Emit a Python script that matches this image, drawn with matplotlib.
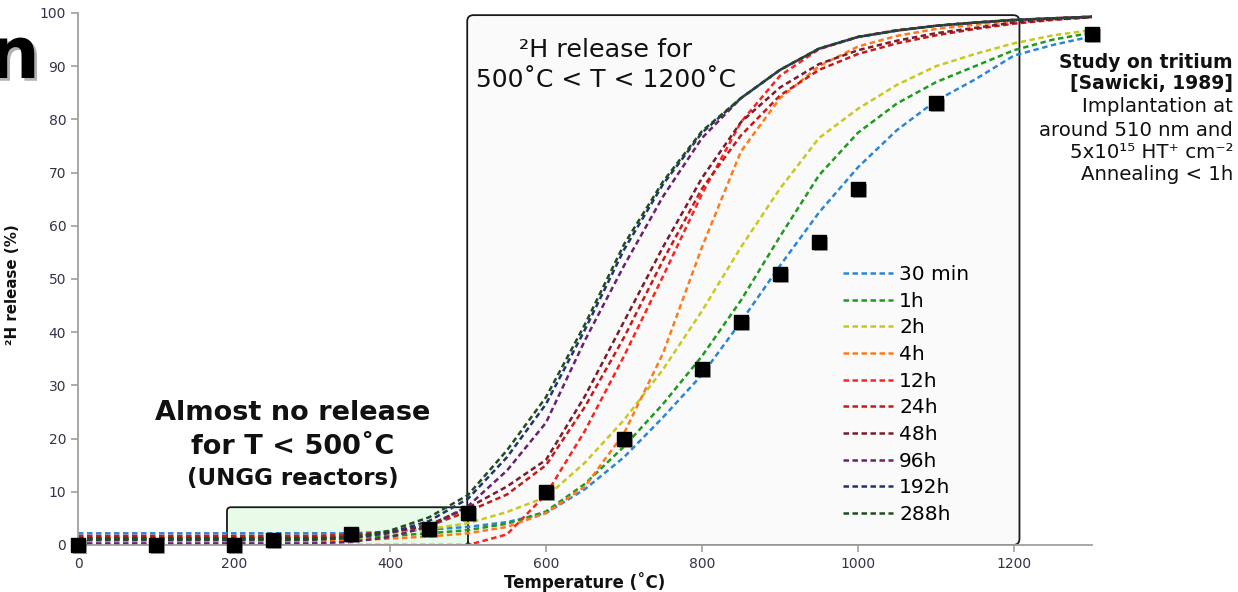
import matplotlib
matplotlib.use("Agg")
import matplotlib.pyplot as plt
import matplotlib.patheffects as pe
from matplotlib.patches import FancyBboxPatch

plt.rcParams['font.family'] = ['DejaVu Sans']

# temperature grid of the model curves (degC)
temps = [0, 50, 100, 150, 200, 250, 300, 350, 400, 450, 500, 550, 600, 650,
         700, 750, 800, 850, 900, 950, 1000, 1050, 1100, 1150, 1200, 1250, 1300]

# release (%) for each annealing time
r_30min = [2.2, 2.2, 2.2, 2.2, 2.2, 2.2, 2.2, 2.2, 2.5, 2.9, 3.4, 4.3, 6.0, 10.5,
           16.5, 24.0, 32.0, 42.0, 52.5, 62.5, 71.0, 78.0, 83.5, 87.5, 92.0, 94.0, 95.6]
r_1h = [1.3, 1.3, 1.3, 1.3, 1.3, 1.3, 1.3, 1.4, 1.7, 2.2, 2.8, 4.0, 6.3, 11.5,
        18.5, 26.5, 35.5, 46.0, 58.0, 69.5, 77.5, 83.0, 87.0, 90.0, 93.0, 95.0, 96.3]
r_2h = [1.2, 1.2, 1.2, 1.2, 1.2, 1.2, 1.2, 1.5, 2.2, 3.0, 4.1, 6.2, 9.0, 15.5,
        23.5, 33.0, 44.0, 56.0, 67.0, 76.5, 82.0, 86.5, 90.0, 92.3, 94.3, 95.8, 96.8]
r_4h = [0.8, 0.8, 0.8, 0.8, 0.8, 0.8, 0.8, 0.9, 1.2, 1.6, 2.2, 3.4, 6.0, 11.0,
        21.0, 36.0, 56.0, 74.0, 84.0, 90.0, 93.7, 95.7, 97.0, 97.8, 98.5, 99.0, 99.3]
r_12h = [0.0, 0.0, 0.0, 0.0, 0.0, 0.0, 0.0, 0.0, 0.0, 0.0, 0.0, 2.0, 9.5, 21.5,
         35.5, 50.5, 66.0, 79.5, 88.2, 93.2, 95.5, 96.8, 97.6, 98.2, 98.7, 99.0, 99.3]
r_24h = [1.7, 1.7, 1.7, 1.7, 1.7, 1.7, 1.7, 1.9, 2.5, 3.6, 6.3, 9.5, 15.0, 26.0,
         39.0, 53.5, 67.0, 77.0, 84.5, 89.3, 92.3, 94.3, 95.8, 97.0, 98.0, 98.7, 99.2]
r_48h = [1.3, 1.3, 1.3, 1.3, 1.3, 1.3, 1.3, 1.5, 2.3, 3.8, 7.0, 11.0, 16.0, 28.0,
         42.0, 56.0, 69.0, 79.5, 86.0, 90.4, 93.0, 94.8, 96.2, 97.2, 98.2, 98.8, 99.2]
r_96h = [0.3, 0.3, 0.3, 0.3, 0.3, 0.3, 0.3, 0.6, 1.5, 3.5, 7.3, 14.0, 23.0, 38.5,
         52.5, 65.5, 76.5, 84.0, 89.3, 93.3, 95.5, 96.7, 97.6, 98.2, 98.7, 99.0, 99.3]
r_192h = [1.0, 1.0, 1.0, 1.0, 1.0, 1.0, 1.0, 1.3, 2.3, 4.5, 8.7, 16.5, 26.5, 40.5,
          55.5, 67.8, 77.5, 84.0, 89.3, 93.3, 95.5, 96.7, 97.6, 98.2, 98.7, 99.0, 99.3]
r_288h = [1.1, 1.1, 1.1, 1.1, 1.1, 1.1, 1.1, 1.4, 2.7, 5.2, 9.4, 17.8, 27.8, 41.5,
          56.5, 68.3, 77.8, 84.0, 89.3, 93.3, 95.5, 96.7, 97.6, 98.2, 98.7, 99.0, 99.3]

labels = ['30 min', '1h', '2h', '4h', '12h', '24h', '48h', '96h', '192h', '288h']
series = [r_30min, r_1h, r_2h, r_4h, r_12h, r_24h, r_48h, r_96h, r_192h, r_288h]
colors = ['#2b86d6', '#1f9a1f', '#c8c81e', '#ff7a1a', '#ff2222',
          '#c41a1a', '#7a1c2c', '#6c1f6c', '#22326e', '#1e4d1e']

# tritium measurements (Sawicki, 1989)
exp_t = [0, 100, 200, 250, 350, 450, 500, 600, 700, 800, 850, 900, 950, 1000, 1100, 1300]
exp_r = [0, 0, 0, 1, 2, 3, 6, 10, 20, 33, 42, 51, 57, 67, 83, 96]

W, H = 1238, 592
def fx(x):
    return x / W
def fy(y):
    return 1 - y / H

fig = plt.figure(figsize=(W / 100, H / 100), dpi=100)
ax = fig.add_axes([fx(78), fy(545), (1092 - 78) / W, (545 - 13) / H])
ax.set_xlim(0, 1300)
ax.set_ylim(0, 100)

asp = 0.78 / 5.32
big = FancyBboxPatch((499, 0), 708, 99.6, boxstyle="round,pad=0,rounding_size=8",
                     mutation_aspect=asp, fc='#fafafa', ec='#1a1a1a', lw=1.3, zorder=0)
ax.add_patch(big)
small = FancyBboxPatch((191, 0), 309, 7.1, boxstyle="round,pad=0,rounding_size=5",
                       mutation_aspect=asp, fc='#e8fbe8', ec='#1a1a1a', lw=1.3, zorder=0.5)
ax.add_patch(small)

for lab, vals, c in zip(labels, series, colors):
    ax.plot(temps, vals, color=c, lw=1.8, ls=(0, (2.2, 1.4)), label=lab, zorder=2)

ax.plot(exp_t, exp_r, ls='none', marker='s', ms=10, color='black', zorder=5, clip_on=False,
        path_effects=[pe.SimplePatchShadow(offset=(1.5, -1.5), shadow_rgbFace='#555555', alpha=0.5),
                      pe.Normal()])

for s in ['top', 'right']:
    ax.spines[s].set_visible(False)
for s in ['left', 'bottom']:
    ax.spines[s].set_color('#a0a0a0')
    ax.spines[s].set_linewidth(1.3)
ax.set_xticks([0, 200, 400, 600, 800, 1000, 1200])
ax.set_yticks(range(0, 101, 10))
ax.tick_params(colors='#a0a0a0', labelcolor='#33334a', labelsize=10, length=5, width=1.2)

ax.set_xlabel('Temperature (˚C)', fontsize=12, fontweight='bold', color='#111111')
ax.xaxis.set_label_coords(0.5, -0.05)
ax.set_ylabel('²H release (%)', fontsize=10.8, fontweight='bold', color='#111111')
ax.yaxis.set_label_coords(-0.057, 0.49)

ax.legend(loc='upper left', bbox_to_anchor=(fx(825), fy(247)), bbox_transform=fig.transFigure,
          frameon=False, fontsize=14.5, handlelength=2.5, handletextpad=0.28,
          labelspacing=0.38, borderpad=0.4)

fig.text(fx(293), fy(413), 'Almost no release', ha='center', va='center',
         fontsize=19.5, fontweight='bold', color='#111111')
fig.text(fx(293), fy(447), 'for T < 500˚C', ha='center', va='center',
         fontsize=19.5, fontweight='bold', color='#111111')
fig.text(fx(293), fy(479), '(UNGG reactors)', ha='center', va='center',
         fontsize=16.5, fontweight='bold', color='#111111')

fig.text(fx(606), fy(50), '²H release for', ha='center', va='center',
         fontsize=18.3, color='#111111')
fig.text(fx(606), fy(80), '500˚C < T < 1200˚C', ha='center', va='center',
         fontsize=18, color='#111111')

notes = [('Study on tritium', 'bold'), ('[Sawicki, 1989]', 'bold'),
         ('Implantation at', 'normal'), ('around 510 nm and', 'normal'),
         ('5x10¹⁵ HT⁺ cm⁻²', 'normal'), ('Annealing < 1h', 'normal')]
note_y = [62, 84, 107, 130, 153, 175]
for (txt, wt), yy in zip(notes, note_y):
    fig.text(fx(1233), fy(yy), txt, ha='right', va='center',
             fontsize=13.5 if wt == 'bold' else 14.2, fontweight=wt, color='#111111')

fig.text(fx(40), fy(78), 'n', ha='right', va='baseline', fontsize=52,
         fontweight='bold', color='black',
         path_effects=[pe.SimplePatchShadow(offset=(2, -2), alpha=0.3), pe.Normal()])

fig.savefig('out.png', dpi=100)
